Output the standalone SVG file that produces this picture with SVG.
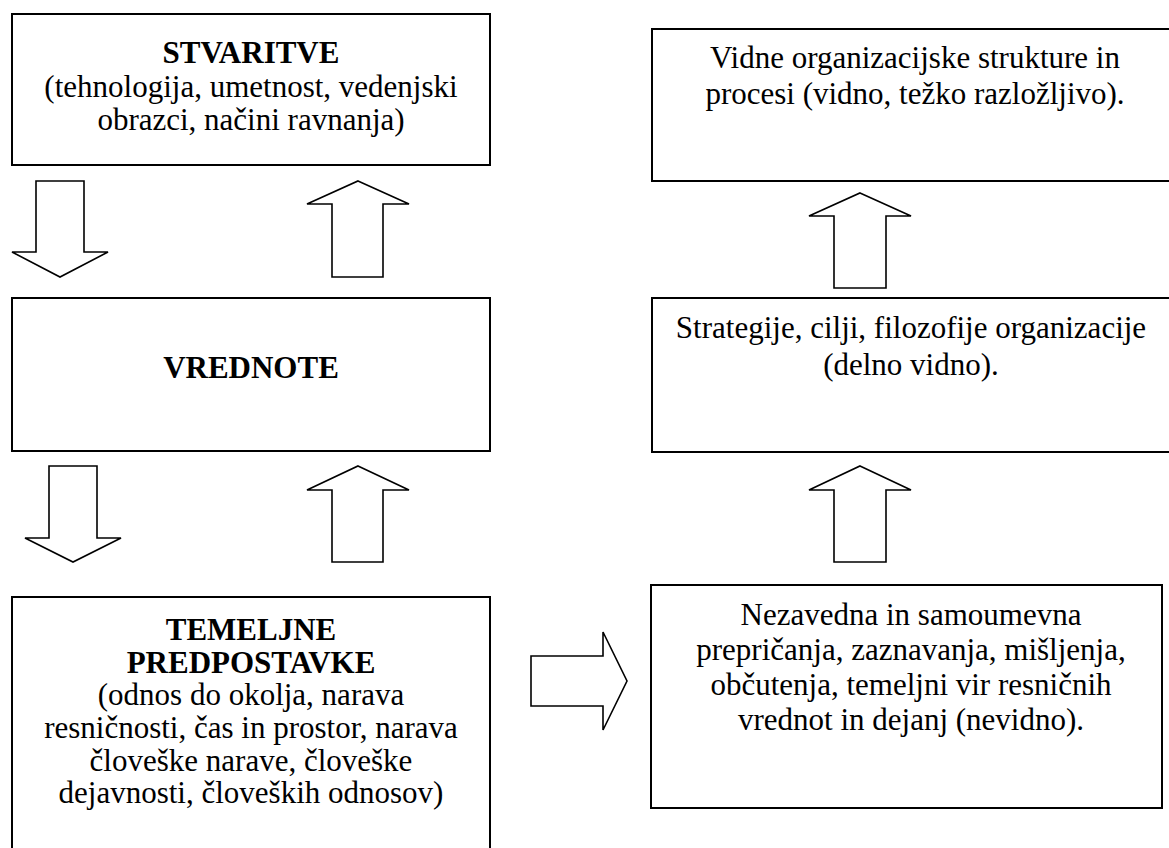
<svg xmlns="http://www.w3.org/2000/svg" width="1169" height="848" viewBox="0 0 1169 848">
<style>
.box{fill:#fff;stroke:#000;stroke-width:2}
.arr{fill:#fff;stroke:#000;stroke-width:1.6;stroke-linejoin:miter}
text{font-family:"Liberation Serif","Times New Roman",serif;font-size:31px;fill:#000;text-anchor:middle}
.b{font-weight:bold}
</style>
<rect width="1169" height="848" fill="#fff"/>
<g id="n-stvaritve">
<rect class="box" x="12" y="14" width="478" height="151"/>
<text x="251" y="63" class="b">STVARITVE</text>
<text x="251" y="97">(tehnologija, umetnost, vedenjski</text>
<text x="251" y="130">obrazci, načini ravnanja)</text>
</g>
<g id="n-vrednote">
<rect class="box" x="12" y="298" width="478" height="153"/>
<text x="251" y="378" class="b">VREDNOTE</text>
</g>
<g id="n-temeljne">
<rect class="box" x="12" y="597" width="478" height="260"/>
<text x="251" y="640" class="b">TEMELJNE</text>
<text x="251" y="673" class="b">PREDPOSTAVKE</text>
<text x="251" y="705">(odnos do okolja, narava</text>
<text x="251" y="738">resničnosti, čas in prostor, narava</text>
<text x="251" y="771">človeške narave, človeške</text>
<text x="251" y="803">dejavnosti, človeških odnosov)</text>
</g>
<g id="n-vidne">
<rect class="box" x="652" y="29" width="530" height="152"/>
<text x="915" y="68">Vidne organizacijske strukture in</text>
<text x="915" y="104">procesi (vidno, težko razložljivo).</text>
</g>
<g id="n-strategije">
<rect class="box" x="652" y="298" width="530" height="154"/>
<text x="911" y="338">Strategije, cilji, filozofije organizacije</text>
<text x="911" y="375">(delno vidno).</text>
</g>
<g id="n-nezavedna">
<rect class="box" x="651" y="585" width="511" height="223"/>
<text x="911" y="625">Nezavedna in samoumevna</text>
<text x="911" y="660">prepričanja, zaznavanja, mišljenja,</text>
<text x="911" y="695">občutenja, temeljni vir resničnih</text>
<text x="911" y="730">vrednot in dejanj (nevidno).</text>
</g>
<g id="connectors">
<polygon class="arr" points="36,181 84,181 84,252 108,252 60,277 12,252 36,252"/>
<polygon class="arr" points="358,181 409,204 383,204 383,277 332,277 332,204 307,204"/>
<polygon class="arr" points="49,466 97,466 97,538 121,538 73,562 25,538 49,538"/>
<polygon class="arr" points="358,466 409,490 383,490 383,562 332,562 332,490 307,490"/>
<polygon class="arr" points="860,193 911,216 886,216 886,288 834,288 834,216 809,216"/>
<polygon class="arr" points="860,466 911,490 886,490 886,562 834,562 834,490 809,490"/>
<polygon class="arr" points="531,656 603,656 603,632 627,681 603,730 603,706 531,706"/>
</g>
</svg>
